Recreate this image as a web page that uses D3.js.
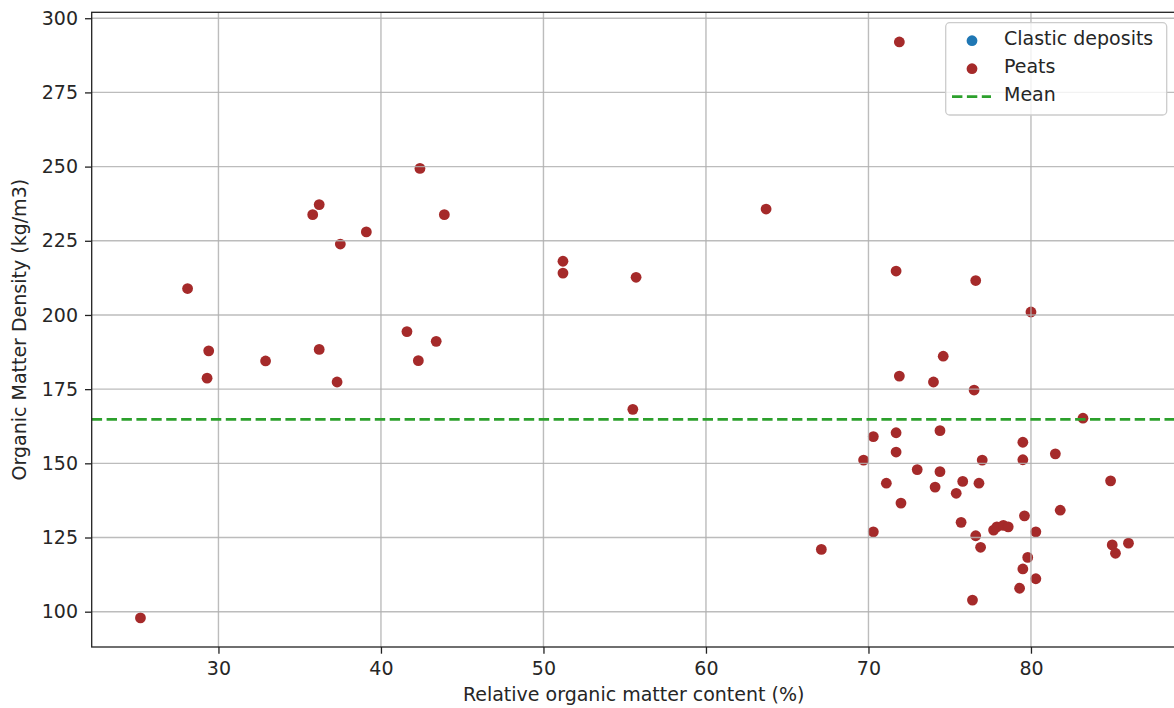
<!DOCTYPE html>
<html>
<head>
<meta charset="utf-8">
<script src="https://cdn.jsdelivr.net/npm/d3@7"></script>
<style>
    body { margin: 0; background: #fff; }
    svg text { font-family: 'DejaVu Sans', sans-serif; fill: #262626; }
</style>
</head>
<body>
<div id="chart"></div>
<script>
// values
var peatX = [25.2, 28.1, 29.4, 29.3, 32.9,
    42.4, 36.2, 35.8, 43.9, 39.1, 37.5, 41.6, 43.4, 42.3, 36.2, 37.3,
    63.7, 51.2, 51.2, 55.7, 55.5,
    71.9, 71.7, 76.6, 80.0, 74.6, 71.9, 74.0, 76.5, 83.2,
    70.3, 71.7, 74.4, 79.5, 81.5, 71.7, 69.7, 77.0, 79.5, 73.0, 74.4,
    71.1, 74.1, 75.8, 76.8, 75.4, 84.9, 72.0, 81.8, 79.6, 75.7,
    77.7, 77.9, 78.3, 78.6, 80.3, 70.3, 67.1, 76.6, 76.9,
    85.0, 86.0, 85.2, 79.8, 79.5, 80.3, 79.3, 76.4]
var peatY = [97.9, 208.9, 187.9, 178.7, 184.5,
    249.4, 237.2, 233.8, 233.8, 228.0, 223.9, 194.4, 191.1, 184.6, 188.4, 177.4,
    235.7, 218.1, 214.1, 212.7, 168.2,
    292.0, 214.8, 211.6, 201.0, 186.1, 179.4, 177.4, 174.7, 165.2,
    159.0, 160.3, 161.0, 157.1, 153.2, 153.8, 151.1, 151.1, 151.2, 147.9, 147.2,
    143.3, 142.0, 143.9, 143.3, 139.9, 144.1, 136.6, 134.2, 132.3, 130.1,
    127.5, 128.6, 129.1, 128.6, 126.9, 126.9, 121.0, 125.6, 121.7,
    122.5, 123.1, 119.7, 118.3, 114.4, 111.1, 107.9, 103.9]
var clasticX = []
var clasticY = []
var meanValue = 164.8

var xTicks = [30, 40, 50, 60, 70, 80]
var yTicks = [100, 125, 150, 175, 200, 225, 250, 275, 300]
var legendLabels = ['Clastic deposits', 'Peats', 'Mean']

var width = 1174
var height = 708
var plotL = 91.7, plotR = 1175.6, plotT = 12.3, plotB = 647

var x = d3.scaleLinear().domain([22.2, 88.9]).range([plotL, plotR])
var y = d3.scaleLinear().domain([88.1, 302]).range([plotB, plotT])

var svg = d3.select('#chart').append('svg')
    .attr('width', width)
    .attr('height', height)
    .style('display', 'block')

// points first, grid goes over them like in matplotlib
svg.append('g')
    .attr('class', 'peats')
    .selectAll('circle')
    .data(peatX)
    .enter().append('circle')
    .attr('cx', function(d) { return x(d) })
    .attr('cy', function(d, i) { return y(peatY[i]) })
    .attr('r', 5.4)
    .attr('fill', '#a52a2a')

svg.append('g')
    .attr('class', 'clastic')
    .selectAll('circle')
    .data(clasticX)
    .enter().append('circle')
    .attr('cx', function(d) { return x(d) })
    .attr('cy', function(d, i) { return y(clasticY[i]) })
    .attr('r', 5.4)
    .attr('fill', '#1f77b4')

// grid
var grid = svg.append('g').attr('class', 'grid')
grid.selectAll('.gx')
    .data(xTicks)
    .enter().append('line')
    .attr('x1', function(d) { return x(d) })
    .attr('x2', function(d) { return x(d) })
    .attr('y1', plotT)
    .attr('y2', plotB)
grid.selectAll('.gy')
    .data(yTicks)
    .enter().append('line')
    .attr('x1', plotL)
    .attr('x2', plotR)
    .attr('y1', function(d) { return y(d) })
    .attr('y2', function(d) { return y(d) })
grid.selectAll('line')
    .attr('stroke', '#b0b0b0')
    .attr('stroke-opacity', 0.85)
    .attr('stroke-width', 1.4)

// mean line
svg.append('line')
    .attr('x1', plotL)
    .attr('x2', plotR)
    .attr('y1', y(meanValue))
    .attr('y2', y(meanValue))
    .attr('stroke', '#2ca02c')
    .attr('stroke-width', 2.8)
    .attr('stroke-dasharray', '10.4,4.5')

// axes
var xAxis = d3.axisBottom(x).tickValues(xTicks).tickSize(6.7).tickPadding(8)
var yAxis = d3.axisLeft(y).tickValues(yTicks).tickSize(6.7).tickPadding(7)

var gx = svg.append('g')
    .attr('transform', 'translate(0,' + plotB + ')')
    .call(xAxis)
var gy = svg.append('g')
    .attr('transform', 'translate(' + plotL + ',0)')
    .call(yAxis)

;[gx, gy].forEach(function(g) {
    g.select('.domain').remove()
    g.selectAll('.tick line').attr('stroke', '#222').attr('stroke-width', 1.3)
    g.selectAll('.tick text')
        .style('font-size', '19px')
        .attr('fill', '#262626')
})
gx.selectAll('.tick text').attr('dy', '0.71em')

// spines (right one falls just outside the window)
svg.append('rect')
    .attr('x', plotL)
    .attr('y', plotT)
    .attr('width', plotR - plotL)
    .attr('height', plotB - plotT)
    .attr('fill', 'none')
    .attr('stroke', '#222')
    .attr('stroke-width', 1.3)

// axis labels
svg.append('text')
    .attr('x', (plotL + plotR) / 2)
    .attr('y', 701)
    .attr('text-anchor', 'middle')
    .style('font-size', '19px')
    .text('Relative organic matter content (%)')

svg.append('text')
    .attr('transform', 'translate(26,' + ((plotT + plotB) / 2) + ') rotate(-90)')
    .attr('text-anchor', 'middle')
    .style('font-size', '19px')
    .text('Organic Matter Density (kg/m3)')

// legend
var legend = svg.append('g').attr('class', 'legend')
legend.append('rect')
    .attr('x', 945.7)
    .attr('y', 22.7)
    .attr('width', 221)
    .attr('height', 92.3)
    .attr('rx', 4)
    .attr('fill', '#fff')
    .attr('fill-opacity', 0.8)
    .attr('stroke', '#cccccc')
    .attr('stroke-width', 1.3)

var rowY = d3.scalePoint().domain(legendLabels).range([40.7, 96.7])

legend.append('circle')
    .attr('cx', 972).attr('cy', rowY(legendLabels[0]))
    .attr('r', 5.4).attr('fill', '#1f77b4')
legend.append('circle')
    .attr('cx', 972).attr('cy', rowY(legendLabels[1]))
    .attr('r', 5.4).attr('fill', '#a52a2a')
legend.append('line')
    .attr('x1', 952).attr('x2', 991)
    .attr('y1', rowY(legendLabels[2])).attr('y2', rowY(legendLabels[2]))
    .attr('stroke', '#2ca02c')
    .attr('stroke-width', 2.8)
    .attr('stroke-dasharray', '10.4,4.5')

legend.selectAll('text')
    .data(legendLabels)
    .enter().append('text')
    .attr('x', 1004)
    .attr('y', function(d) { return rowY(d) + 4.6 })
    .style('font-size', '19px')
    .text(function(d) { return d })
</script>
</body>
</html>
